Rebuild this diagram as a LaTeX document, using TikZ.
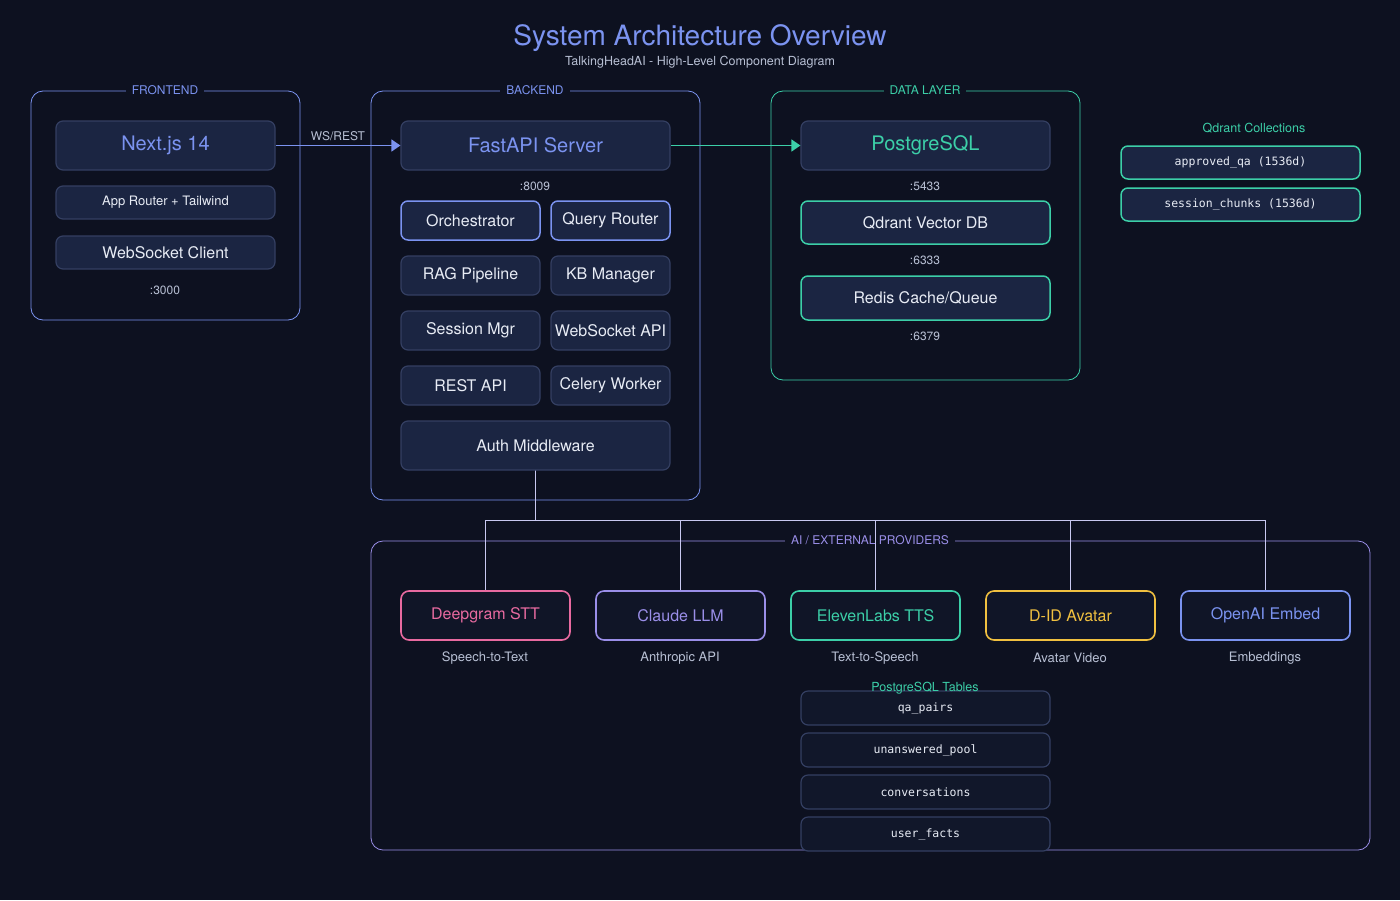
\documentclass[tikz,border=0pt]{standalone}
\usepackage{fontspec}
\setmainfont{TeX Gyre Heros}
\setmonofont{DejaVu Sans Mono}
\usetikzlibrary{arrows.meta}
\definecolor{bg}{HTML}{0D1120}
\definecolor{boxf}{HTML}{1B2542}
\definecolor{boxd}{HTML}{343F62}
\definecolor{blu}{HTML}{7B93F0}
\definecolor{teal}{HTML}{3CCFA8}
\definecolor{lav}{HTML}{9A8EE8}
\definecolor{pink}{HTML}{E86AA0}
\definecolor{gold}{HTML}{F0C040}
\definecolor{txt}{HTML}{E8ECF5}
\definecolor{muted}{HTML}{B8C0D4}
\definecolor{conn}{HTML}{C8C8F0}
\begin{document}
\begin{tikzpicture}[x=1pt,y=-1pt,
  grp/.style={draw=#1,line width=0.8pt,rounded corners=12pt},
  glab/.style={fill=bg,text=#1,font=\fontsize{12}{14}\selectfont,inner xsep=6pt,inner ysep=1pt},
  bx/.style={draw=boxd,fill=boxf,line width=1.2pt,rounded corners=7pt,text=txt,font=\fontsize{16}{18}\selectfont},
  hb/.style={bx,draw=#1,line width=1.5pt},
  pb/.style={draw=#1,fill=bg!80!boxf,line width=1.6pt,rounded corners=8pt,text=#1,font=\fontsize{16}{18}\selectfont},
  mono/.style={bx,font=\ttfamily\fontsize{11.5}{13}\selectfont},
  port/.style={text=muted,font=\fontsize{12}{14}\selectfont},
  sub/.style={text=muted,font=\fontsize{13}{15}\selectfont},
  cn/.style={draw=conn,line width=0.7pt}]
\fill[bg] (0,0) rectangle (1400,900);
\useasboundingbox (0,0) rectangle (1400,900);
\node[text=blu,font=\fontsize{28}{32}\selectfont] (title) at (700,38) {System Architecture Overview};
\node[text=muted,font=\fontsize{12.5}{14}\selectfont] (subt) at (700,62) {TalkingHeadAI - High-Level Component Diagram};
% groups
\draw[grp=blu] (31,91) rectangle (300,320);
\node[glab=blu] (gfe) at (165,90) {FRONTEND};
\draw[grp=blu] (371,91) rectangle (700,500);
\node[glab=blu] (gbe) at (535,90) {BACKEND};
\draw[grp=teal] (771,91) rectangle (1080,380);
\node[glab=teal] (gdl) at (925,90) {DATA LAYER};
\draw[grp=lav] (371,541) rectangle (1370,850);
% connectors (AI)
\draw[cn] (535,470) -- (535,520);
\draw[cn] (485,520) -- (1265,520);
\foreach \x in {485,680,875,1070,1265} \draw[cn] (\x,520) -- (\x,591);
\node[glab=lav] (gai) at (870,540) {AI / EXTERNAL PROVIDERS};
\draw[conn,line width=0.7pt] (875,530) -- (875,550);
% frontend
\node[bx,minimum width=219pt,minimum height=49pt,text=blu,font=\fontsize{20}{22}\selectfont] (next) at (165.5,145.5) {Next.js 14};
\node[bx,minimum width=219pt,minimum height=33pt,font=\fontsize{13}{15}\selectfont] (app) at (165.5,202.5) {App Router + Tailwind};
\node[bx,minimum width=219pt,minimum height=33pt] (wsc) at (165.5,252.5) {WebSocket Client};
\node[port] (p3000) at (165,290) {:3000};
% backend
\node[bx,minimum width=269pt,minimum height=49pt,text=blu,font=\fontsize{20}{22}\selectfont] (fast) at (535.5,145.5) {FastAPI Server};
\node[port] (p8009) at (535,186) {:8009};
\node[hb=blu,minimum width=139pt,minimum height=39pt] (orch) at (470.5,220.5) {Orchestrator};
\node[hb=blu,minimum width=119pt,minimum height=39pt] (qr) at (610.5,220.5) {Query Router};
\node[bx,minimum width=139pt,minimum height=39pt] (rag) at (470.5,275.5) {RAG Pipeline};
\node[bx,minimum width=119pt,minimum height=39pt] (kb) at (610.5,275.5) {KB Manager};
\node[bx,minimum width=139pt,minimum height=39pt] (sess) at (470.5,330.5) {Session Mgr};
\node[bx,minimum width=119pt,minimum height=39pt,inner xsep=0pt] (wsapi) at (610.5,330.5) {WebSocket API};
\node[bx,minimum width=139pt,minimum height=39pt] (rest) at (470.5,385.5) {REST API};
\node[bx,minimum width=119pt,minimum height=39pt,inner xsep=0pt] (cel) at (610.5,385.5) {Celery Worker};
\node[bx,minimum width=269pt,minimum height=49pt] (auth) at (535.5,445.5) {Auth Middleware};
% data layer
\node[bx,minimum width=249pt,minimum height=49pt,text=teal,font=\fontsize{20}{22}\selectfont] (pg) at (925.5,145.5) {PostgreSQL};
\node[port] (p5433) at (925,186) {:5433};
\node[hb=teal,minimum width=249pt,minimum height=43pt] (qd) at (925.5,222.5) {Qdrant Vector DB};
\node[port] (p6333) at (925,260) {:6333};
\node[hb=teal,minimum width=249pt,minimum height=44pt] (red) at (925.5,298) {Redis Cache/Queue};
\node[port] (p6379) at (925,336) {:6379};
% qdrant collections
\node[text=teal,font=\fontsize{12.5}{14}\selectfont] (qc) at (1254,128) {Qdrant Collections};
\node[mono,draw=teal,line width=1.5pt,minimum width=239pt,minimum height=33pt] (c1) at (1240.5,162.5) {approved\_qa (1536d)};
\node[mono,draw=teal,line width=1.5pt,minimum width=239pt,minimum height=33pt] (c2) at (1240.5,204.5) {session\_chunks (1536d)};
% arrows
\draw[blu,line width=1.5pt,-{Triangle[length=9pt,width=12pt]}] (next.east) -- (fast.west);
\node[text=muted,font=\fontsize{12}{14}\selectfont] (wsr) at (338,136) {WS/REST};
\draw[teal,line width=1.5pt,-{Triangle[length=9pt,width=12pt]}] (fast.east) -- (pg.west);
% providers
\node[pb=pink,minimum width=169pt,minimum height=49pt] (dg) at (485.5,615.5) {Deepgram STT};
\node[pb=lav,minimum width=169pt,minimum height=49pt] (cl) at (680.5,615.5) {Claude LLM};
\node[pb=teal,minimum width=169pt,minimum height=49pt] (el) at (875.5,615.5) {ElevenLabs TTS};
\node[pb=gold,minimum width=169pt,minimum height=49pt] (did) at (1070.5,615.5) {D-ID Avatar};
\node[pb=blu,minimum width=169pt,minimum height=49pt] (oa) at (1265.5,615.5) {OpenAI Embed};
\node[sub] (s1) at (485,658) {Speech-to-Text};
\node[sub] (s2) at (680,658) {Anthropic API};
\node[sub] (s3) at (875,658) {Text-to-Speech};
\node[sub] (s4) at (1070,658) {Avatar Video};
\node[sub] (s5) at (1265,658) {Embeddings};
% tables
\node[mono,fill=bg!70!boxf,minimum width=249pt,minimum height=34pt] (t1) at (925.5,708) {qa\_pairs};
\node[mono,fill=bg!70!boxf,minimum width=249pt,minimum height=34pt] (t2) at (925.5,750) {unanswered\_pool};
\node[mono,fill=bg!70!boxf,minimum width=249pt,minimum height=34pt] (t3) at (925.5,792) {conversations};
\node[mono,fill=bg!70!boxf,minimum width=249pt,minimum height=34pt] (t4) at (925.5,834) {user\_facts};
\node[text=teal,font=\fontsize{12.5}{14}\selectfont] (ptl) at (925,688) {PostgreSQL Tables};
\end{tikzpicture}
\end{document}
